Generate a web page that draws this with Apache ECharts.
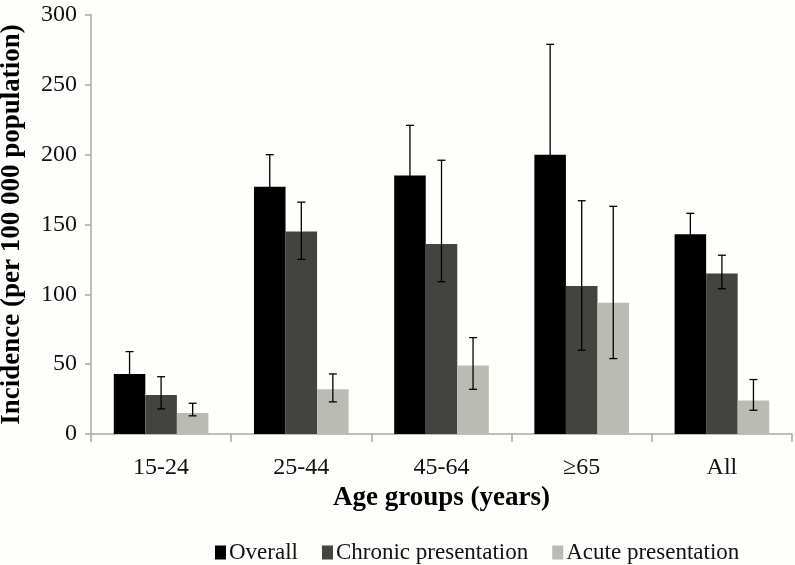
<!DOCTYPE html>
<html>
<head>
<meta charset="utf-8">
<script src="https://cdn.jsdelivr.net/npm/echarts@6/dist/echarts.min.js"></script>
<style>
html,body{margin:0;padding:0;background:#fefefc;}
#chart{width:795px;height:565px;}
</style>
</head>
<body>
<div id="chart"></div>
<script>
var categories = ['15-24', '25-44', '45-64', '\u226565', 'All'];
var seriesNames = ['Overall', 'Chronic presentation', 'Acute presentation'];
var overall = [43, 177, 185, 200, 143];
var chronic = [28, 145, 136, 106, 115];
var acute = [15, 32, 49, 94, 24];
var overallLower = [27, 154, 149, 121, 129];
var overallUpper = [59, 200, 221, 279, 158];
var chronicLower = [18, 125, 109, 60, 104];
var chronicUpper = [41, 166, 196, 167, 128];
var acuteLower = [13, 23, 32, 54, 17];
var acuteUpper = [22, 43, 69, 163, 39];
var yTicks = [0, 50, 100, 150, 200, 250, 300];

var colors = ['#000000', '#434341', '#bbbbb6'];
var FONT = '"Liberation Serif", "DejaVu Serif", serif';
var catGap = 0.325;

function errSeries(idx, lower, upper, hideLower) {
  var data = categories.map(function (c, i) { return [i, lower[i], upper[i]]; });
  return {
    type: 'custom',
    name: seriesNames[idx] + ' CI',
    z: 10,
    silent: true,
    data: data,
    encode: { x: 0, y: [1, 2] },
    renderItem: function (params, api) {
      var ci = api.value(0);
      var lo = api.coord([ci, api.value(1)]);
      var hi = api.coord([ci, api.value(2)]);
      var band = api.size([1, 0])[0];
      var bw = band * (1 - catGap) / 3;
      var x = lo[0] + (idx - 1) * bw;
      var cap = 4;
      var st = { stroke: '#000', lineWidth: 1.3 };
      var kids = [
        { type: 'line', shape: { x1: x, y1: lo[1], x2: x, y2: hi[1] }, style: st },
        { type: 'line', shape: { x1: x - cap, y1: hi[1], x2: x + cap, y2: hi[1] }, style: st }
      ];
      if (!hideLower) {
        kids.push({ type: 'line', shape: { x1: x - cap, y1: lo[1], x2: x + cap, y2: lo[1] }, style: st });
      }
      return { type: 'group', children: kids };
    }
  };
}

var chart = echarts.init(document.getElementById('chart'));
chart.setOption({
  backgroundColor: '#fefefc',
  animation: false,
  textStyle: { fontFamily: FONT },
  grid: { left: 91, right: 3, top: 15, bottom: 131, containLabel: false, outerBoundsMode: 'none' },
  legend: {
    data: seriesNames,
    left: 210,
    top: 536,
    itemWidth: 11,
    itemHeight: 14,
    itemGap: 24,
    icon: 'rect',
    textStyle: { fontFamily: FONT, fontSize: 23, color: '#111', padding: [0, 0, 0, -2] }
  },
  xAxis: {
    type: 'category',
    data: categories,
    name: 'Age groups (years)',
    nameLocation: 'middle',
    nameGap: 51,
    nameTextStyle: { fontFamily: FONT, fontSize: 27, fontWeight: 'bold', color: '#000' },
    axisLine: { lineStyle: { color: '#a8a8a6', width: 1.5 } },
    axisTick: { show: true, length: 8, lineStyle: { color: '#a8a8a6', width: 1.5 } },
    axisLabel: { fontFamily: FONT, fontSize: 24, color: '#111', margin: 22 }
  },
  yAxis: {
    type: 'value',
    min: yTicks[0],
    max: yTicks[yTicks.length - 1],
    interval: 50,
    name: 'Incidence (per 100 000 population)',
    nameLocation: 'middle',
    nameGap: 65,
    nameTextStyle: { fontFamily: FONT, fontSize: 27, fontWeight: 'bold', color: '#000' },
    axisLine: { show: true, lineStyle: { color: '#a8a8a6', width: 1.5 } },
    axisTick: { show: true, length: 6, lineStyle: { color: '#a8a8a6', width: 1.5 } },
    splitLine: { show: false },
    axisLabel: { fontFamily: FONT, fontSize: 24, color: '#111', margin: 14 }
  },
  series: [
    { type: 'bar', name: seriesNames[0], data: overall, itemStyle: { color: colors[0] }, barGap: '0%', barCategoryGap: (catGap * 100) + '%' },
    { type: 'bar', name: seriesNames[1], data: chronic, itemStyle: { color: colors[1] }, barGap: '0%', barCategoryGap: (catGap * 100) + '%' },
    { type: 'bar', name: seriesNames[2], data: acute, itemStyle: { color: colors[2] }, barGap: '0%', barCategoryGap: (catGap * 100) + '%' },
    errSeries(0, overallLower, overallUpper, true),
    errSeries(1, chronicLower, chronicUpper, false),
    errSeries(2, acuteLower, acuteUpper, false)
  ]
});
</script>
</body>
</html>
